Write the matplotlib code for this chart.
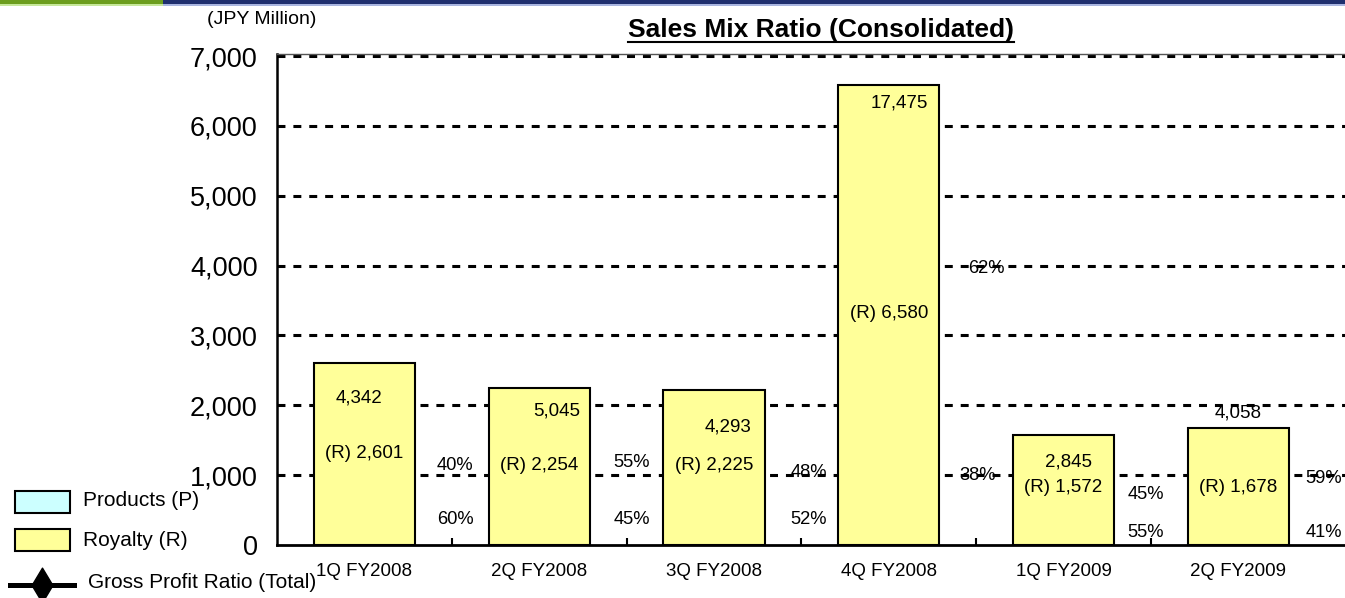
import matplotlib
matplotlib.use("Agg")
import matplotlib.pyplot as plt
from matplotlib.patches import Rectangle
from matplotlib.lines import Line2D
from matplotlib.path import Path

plt.rcParams['font.family'] = ['Liberation Sans', 'DejaVu Sans']

# chart data
quarters = ['1Q FY2008', '2Q FY2008', '3Q FY2008', '4Q FY2008', '1Q FY2009', '2Q FY2009']
royalty = [2601, 2254, 2225, 6580, 1572, 1678]
totals = [4342, 5045, 4293, 17475, 2845, 4058]
products_pct = [40, 55, 48, 62, 45, 59]
royalty_pct = [60, 45, 52, 38, 55, 41]
y_ticks = [0, 1000, 2000, 3000, 4000, 5000, 6000, 7000]

# label placement (data units), as in the original slide
total_lbl_y = [2104, 1918, 1689, 6327, 1188, 1890]
total_lbl_dx = [-0.03, 0.10, 0.08, 0.06, 0.03, 0.0]
roy_lbl_y = [1303, 1131, 1131, 3321, 816, 830]
pct_x = [0.52, 1.53, 2.54, 3.56, 4.47, 5.49]
pct_up_y = [1145, 1174, 1045, 3965, 730, 959]
pct_lo_x = [0.52, 1.53, 2.54, 3.51, 4.47, 5.49]
pct_lo_y = [358, 358, 358, 1002, 186, 186]

W, H = 1345, 598
fig = plt.figure(figsize=(W / 100, H / 100), dpi=100)


def fx(x):
    return x / W


def fy(y):
    return 1 - y / H


ax = fig.add_axes([fx(277), fy(545), fx(1345) - fx(277), fy(54) - fy(545)])

xs = list(range(len(quarters)))
for v in y_ticks[1:]:
    ax.axhline(v, color='black', linewidth=2.2, linestyle=(0, (2.6, 2.6)), zorder=1)

ax.bar(xs, royalty, width=0.58, color='#FFFF99', edgecolor='black', linewidth=1.5, zorder=3)

ax.set_xlim(-0.5, 5.61)
ax.set_ylim(0, 7029)
ax.set_yticks(y_ticks)
ax.set_yticklabels([f'{v:,}' for v in y_ticks], fontsize=19.5)
ax.tick_params(axis='y', length=0, pad=14)
ax.set_xticks(xs)
ax.set_xticklabels(quarters, fontsize=13.5)
ax.tick_params(axis='x', which='major', length=0, pad=13)
ax.set_xticks([i + 0.5 for i in xs[:-1]], minor=True)
ax.tick_params(axis='x', which='minor', direction='in', length=5, width=1.5)

ax.spines['right'].set_visible(False)
ax.spines['left'].set_linewidth(1.8)
ax.spines['bottom'].set_linewidth(2.0)
ax.spines['top'].set_linewidth(1.0)
ax.spines['top'].set_color('#555555')

for i in xs:
    ax.text(i + total_lbl_dx[i], total_lbl_y[i], f'{totals[i]:,}', ha='center', va='center',
            fontsize=13.5, zorder=5)
    ax.text(i, roy_lbl_y[i], f'(R) {royalty[i]:,}', ha='center', va='center', fontsize=13.5, zorder=5)
    ax.text(pct_x[i], pct_up_y[i], f'{products_pct[i]}%', ha='center', va='center', fontsize=13.2,
            zorder=5, clip_on=False)
    ax.text(pct_lo_x[i], pct_lo_y[i], f'{royalty_pct[i]}%', ha='center', va='center', fontsize=13.2,
            zorder=5, clip_on=False)

# title and unit
t = fig.text(fx(821), fy(30), 'Sales Mix Ratio (Consolidated)', ha='center', va='center',
             fontsize=19, fontweight='bold')
fig.text(fx(262), fy(20), '(JPY Million)', ha='center', va='center', fontsize=14)
fig.canvas.draw()
bb = t.get_window_extent()
fig.add_artist(Line2D([bb.x0 / W, bb.x1 / W], [fy(42), fy(42)], color='black', linewidth=1.5))

# top banner
fig.add_artist(Rectangle((0, fy(4)), fx(163), 4 / H, color='#6C9E1E', lw=0))
fig.add_artist(Rectangle((0, fy(5.5)), fx(163), 1.5 / H, color='#C6E89A', lw=0))
fig.add_artist(Rectangle((fx(163), fy(4)), 1 - fx(163), 4 / H, color='#1F2F6E', lw=0))
fig.add_artist(Rectangle((fx(163), fy(5.5)), 1 - fx(163), 1.5 / H, color='#A9B5E0', lw=0))

# legend
fig.add_artist(Rectangle((fx(15), fy(513)), fx(70) - fx(15), 22 / H, facecolor='#CCFFFF',
                         edgecolor='black', lw=1.5))
fig.text(fx(83), fy(501), 'Products (P)', ha='left', va='center', fontsize=15)
fig.add_artist(Rectangle((fx(15), fy(551)), fx(70) - fx(15), 22 / H, facecolor='#FFFF99',
                         edgecolor='black', lw=1.5))
fig.text(fx(83), fy(540), 'Royalty (R)', ha='left', va='center', fontsize=15)
fig.add_artist(Line2D([fx(10), fx(74)], [fy(585), fy(585)], color='black', linewidth=3.6))
diamond = Path([(0, 1), (0.6, 0), (0, -1), (-0.6, 0), (0, 1)],
               [Path.MOVETO, Path.LINETO, Path.LINETO, Path.LINETO, Path.CLOSEPOLY])
fig.add_artist(Line2D([fx(42)], [fy(585)], color='black', marker=diamond, markersize=25,
                      linestyle='none'))
fig.text(fx(88), fy(583), 'Gross Profit Ratio (Total)', ha='left', va='center', fontsize=15)

fig.savefig('out.png', dpi=100)
